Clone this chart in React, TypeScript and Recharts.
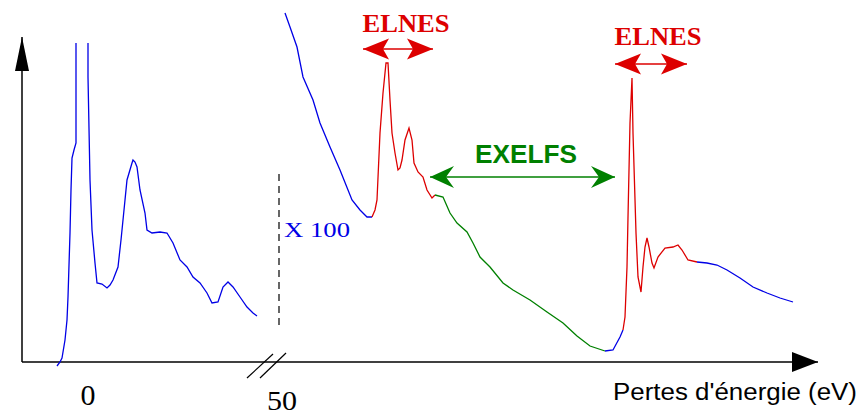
import { LineChart, Line, XAxis, YAxis, ReferenceLine, ReferenceDot } from 'recharts'

// spectrum: [position, intensity], split by colour
const lowRise: [number, number][] = [
  [57, -4], [60, 0], [62, 4], [65, 22], [67, 42], [68, 65], [70, 129], [71, 172],
  [72, 204], [74, 212], [76, 219], [76, 319],
]
const lowFall: [number, number][] = [
  [88, 319], [88, 285], [90, 182], [92, 132], [95, 99], [97, 79], [102, 78], [107, 74],
  [110, 77], [113, 82], [118, 95], [121, 122], [125, 162], [127, 182], [132, 199],
  [133, 202], [135, 200], [137, 195], [140, 172], [145, 149], [147, 132], [152, 129],
  [160, 130], [167, 129], [173, 119], [180, 102], [187, 95], [193, 85], [200, 79],
  [207, 69], [212, 59], [218, 60], [223, 75], [228, 80], [233, 75], [240, 65],
  [247, 55], [253, 49], [257, 46],
]
const background: [number, number][] = [
  [285, 349], [290, 335], [297, 315], [303, 285], [313, 262], [320, 239], [330, 215],
  [340, 192], [352, 162], [360, 152], [367, 145], [372, 145],
]
const elnesFirst: [number, number][] = [
  [372, 145], [375, 152], [377, 162], [380, 229], [383, 269], [386, 299], [388, 299],
  [390, 262], [392, 229], [395, 209], [398, 192], [400, 194], [402, 202], [405, 222],
  [409, 234], [412, 222], [414, 199], [418, 190], [423, 185], [427, 172], [432, 164],
  [435, 167],
]
const exelfs: [number, number][] = [
  [435, 167], [443, 165], [450, 149], [457, 139], [467, 130], [473, 119], [480, 105],
  [490, 95], [503, 79], [513, 72], [530, 62], [547, 50], [563, 39], [577, 26],
  [590, 16], [605, 11],
]
const edgeOnset: [number, number][] = [[605, 11], [613, 12], [620, 25], [623, 32]]
const elnesSecond: [number, number][] = [
  [623, 32], [625, 45], [627, 95], [628, 145], [630, 239], [632, 284], [633, 229],
  [636, 129], [638, 85], [641, 70], [643, 95], [645, 115], [647, 124], [649, 115],
  [652, 99], [654, 94], [658, 105], [665, 114], [673, 115], [678, 117], [682, 112],
  [688, 102], [697, 100],
]
const tail: [number, number][] = [
  [697, 100], [707, 99], [717, 97], [727, 92], [740, 84], [753, 75], [767, 69],
  [780, 64], [793, 60],
]

const BLUE = '#0000e6'
const RED = '#dd0000'
const GREEN = '#008000'
const SERIF = '"Liberation Serif", "Times New Roman", serif'
const SANS = '"Liberation Sans", Arial, sans-serif'

const toPts = (arr: [number, number][]) => arr.map(([x, y]) => ({ x, y }))

const segments = [
  { key: 'lowRise', pts: lowRise, color: BLUE },
  { key: 'lowFall', pts: lowFall, color: BLUE },
  { key: 'background', pts: background, color: BLUE },
  { key: 'elnes1', pts: elnesFirst, color: RED },
  { key: 'exelfs', pts: exelfs, color: GREEN },
  { key: 'onset', pts: edgeOnset, color: BLUE },
  { key: 'elnes2', pts: elnesSecond, color: RED },
  { key: 'tail', pts: tail, color: BLUE },
]

function head(tx: number, ty: number, ux: number, uy: number, L: number, N: number, h: number) {
  const nx = -uy
  const ny = ux
  const pts = [
    [tx, ty],
    [tx - L * ux + h * nx, ty - L * uy + h * ny],
    [tx - N * ux, ty - N * uy],
    [tx - L * ux - h * nx, ty - L * uy - h * ny],
  ]
  return pts.map((p) => p.join(',')).join(' ')
}

function arrow(color: string, width: number, L: number, N: number, h: number, both: boolean) {
  return (p: any) => {
    const { x1, y1, x2, y2 } = p
    const len = Math.hypot(x2 - x1, y2 - y1) || 1
    const ux = (x2 - x1) / len
    const uy = (y2 - y1) / len
    return (
      <g>
        <line x1={x1} y1={y1} x2={x2} y2={y2} stroke={color} strokeWidth={width} />
        <polygon points={head(x2, y2, ux, uy, L, N, h)} fill={color} />
        {both && <polygon points={head(x1, y1, -ux, -uy, L, N, h)} fill={color} />}
      </g>
    )
  }
}

function label(text: string, opts: { font: string; size: number; color: string; bold?: boolean; width?: number; anchor?: string }) {
  return (p: any) => (
    <text
      x={p.cx}
      y={p.cy}
      fontFamily={opts.font}
      fontSize={opts.size}
      fontWeight={opts.bold ? 'bold' : 'normal'}
      fill={opts.color}
      textAnchor={opts.anchor || 'middle'}
      textLength={opts.width}
      lengthAdjust="spacingAndGlyphs"
    >
      {text}
    </text>
  )
}

export default function App() {
  return (
    <div style={{ position: 'absolute', left: 0, top: 0, background: '#fff' }}>
      <LineChart width={860} height={415} margin={{ top: 0, right: 0, bottom: 43, left: 0 }}>
        <XAxis type="number" dataKey="x" domain={[0, 860]} allowDataOverflow hide />
        <YAxis type="number" dataKey="y" domain={[-10, 362]} allowDataOverflow hide />

        {/* axes */}
        <ReferenceLine segment={[{ x: 22, y: 0 }, { x: 22, y: 325 }]} ifOverflow="visible" shape={arrow('#000', 1.5, 34, 34, 7, false)} />
        <ReferenceLine segment={[{ x: 22, y: 0 }, { x: 818, y: 0 }]} ifOverflow="visible" shape={arrow('#000', 1.5, 26, 26, 10, false)} />
        <ReferenceLine segment={[{ x: 247, y: -16 }, { x: 273, y: 8 }]} ifOverflow="visible" stroke="#000" strokeWidth={1.2} />
        <ReferenceLine segment={[{ x: 260, y: -16 }, { x: 286, y: 9 }]} ifOverflow="visible" stroke="#000" strokeWidth={1.2} />
        <ReferenceLine segment={[{ x: 279, y: 37 }, { x: 279, y: 189 }]} ifOverflow="visible" stroke="#000" strokeWidth={1.2} strokeDasharray="7 5" />

        {segments.map((s) => (
          <Line
            key={s.key}
            data={toPts(s.pts)}
            dataKey="y"
            type="linear"
            stroke={s.color}
            strokeWidth={1.3}
            dot={false}
            activeDot={false}
            isAnimationActive={false}
          />
        ))}

        {/* annotation arrows */}
        <ReferenceLine segment={[{ x: 363, y: 313 }, { x: 433, y: 313 }]} ifOverflow="visible" shape={arrow(RED, 1.5, 26, 20, 10.5, true)} />
        <ReferenceLine segment={[{ x: 615, y: 298 }, { x: 687, y: 298 }]} ifOverflow="visible" shape={arrow(RED, 1.5, 26, 20, 10.5, true)} />
        <ReferenceLine segment={[{ x: 430, y: 185 }, { x: 615, y: 185 }]} ifOverflow="visible" shape={arrow(GREEN, 1.5, 24, 16, 11, true)} />

        {/* texts */}
        <ReferenceDot x={406} y={330} ifOverflow="visible" shape={label('ELNES', { font: SERIF, size: 26, color: RED, bold: true, width: 87 })} />
        <ReferenceDot x={658} y={317} ifOverflow="visible" shape={label('ELNES', { font: SERIF, size: 26, color: RED, bold: true, width: 87 })} />
        <ReferenceDot x={526} y={199} ifOverflow="visible" shape={label('EXELFS', { font: SANS, size: 25, color: GREEN, bold: true, width: 102 })} />
        <ReferenceDot x={284} y={125} ifOverflow="visible" shape={label('X 100', { font: SERIF, size: 22, color: BLUE, anchor: 'start', width: 66 })} />
        <ReferenceDot x={88} y={-43} ifOverflow="visible" shape={label('0', { font: SERIF, size: 29, color: '#000', width: 15 })} />
        <ReferenceDot x={282} y={-48} ifOverflow="visible" shape={label('50', { font: SERIF, size: 27, color: '#000', width: 30 })} />
        <ReferenceDot x={613} y={-38} ifOverflow="visible" shape={label("Pertes d'énergie (eV)", { font: SANS, size: 23, color: '#000', anchor: 'start', width: 244 })} />
      </LineChart>
    </div>
  )
}
